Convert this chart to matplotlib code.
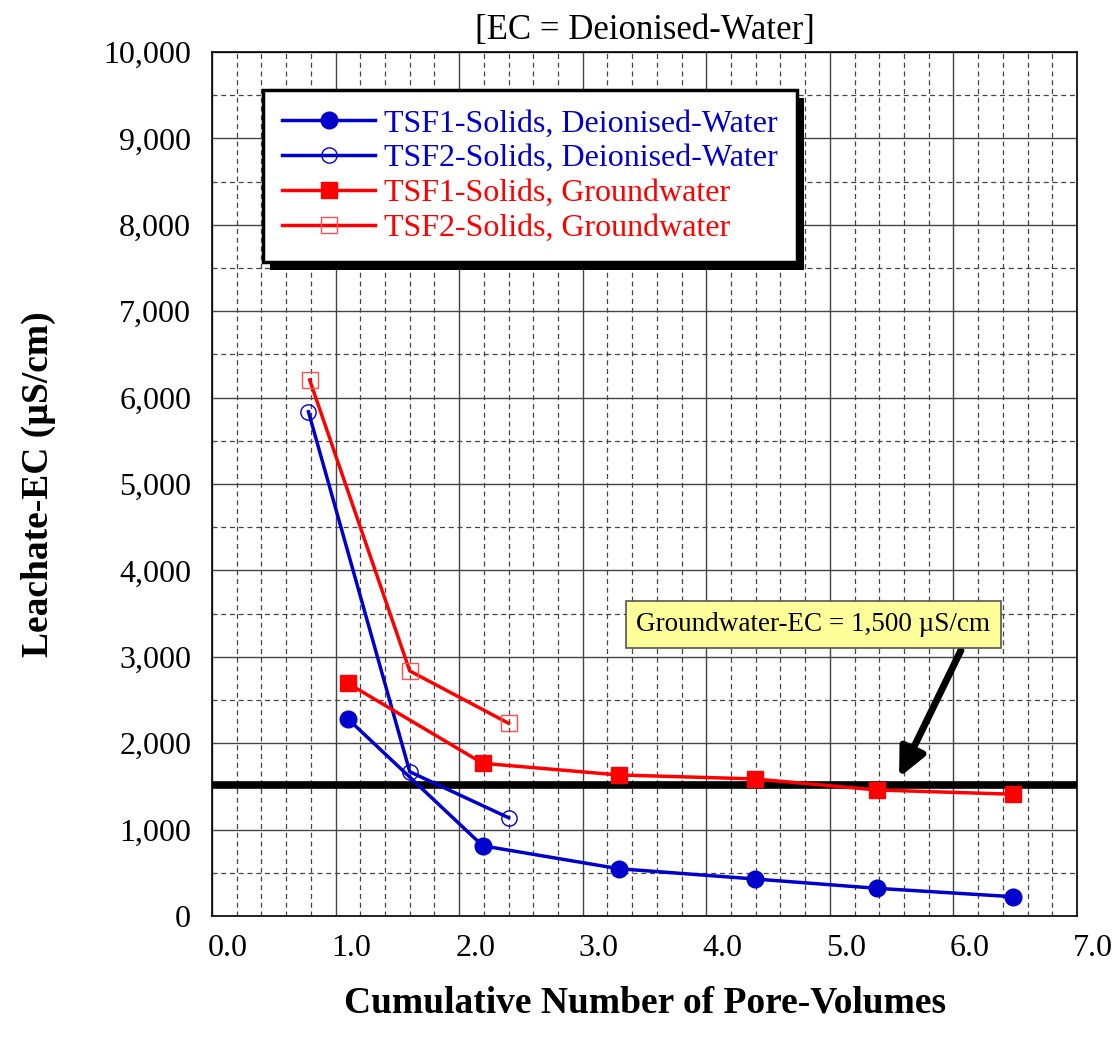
import numpy as np
import matplotlib
matplotlib.use("Agg")
import matplotlib.pyplot as plt
import matplotlib.transforms as mtransforms
from matplotlib.patches import Rectangle
from matplotlib.ticker import MultipleLocator, FuncFormatter

plt.rcParams['font.family'] = ['Liberation Serif', 'DejaVu Serif']

# data
tsf1_dw_x = [1.10, 2.19, 3.29, 4.39, 5.38, 6.48]
tsf1_dw_y = [2280, 812, 547, 428, 320, 223]
tsf2_dw_x = [0.78, 1.60, 2.40]
tsf2_dw_y = [5836, 1669, 1137]
tsf1_gw_x = [1.10, 2.19, 3.29, 4.39, 5.38, 6.48]
tsf1_gw_y = [2692, 1767, 1632, 1586, 1458, 1409]
tsf2_gw_x = [0.79, 1.60, 2.40]
tsf2_gw_y = [6204, 2836, 2230]
groundwater_ec = 1520

blue = "#0000CC"
red = "#FF0000"

fig = plt.figure(figsize=(11.19, 10.48), dpi=100)
ax = fig.add_axes([0.1895, 0.126, 0.773, 0.8244])

ax.set_xlim(0, 7)
ax.set_ylim(0, 10000)
ax.xaxis.set_major_locator(MultipleLocator(1.0))
ax.xaxis.set_minor_locator(MultipleLocator(0.2))
ax.yaxis.set_major_locator(MultipleLocator(1000))
ax.yaxis.set_minor_locator(MultipleLocator(500))
ax.xaxis.set_major_formatter(FuncFormatter(lambda v, p: f"{v:.1f}"))
ax.yaxis.set_major_formatter(FuncFormatter(lambda v, p: f"{v:,.0f}"))
ax.grid(which='major', color='#444444', lw=1.0, ls='-')
ax.grid(which='minor', color='#444444', lw=0.9, ls=(0, (4, 3)))
ax.set_axisbelow(True)
ax.tick_params(which='both', length=0)
ax.tick_params(axis='x', labelsize=23, pad=13)
ax.tick_params(axis='y', labelsize=23, pad=15)
for sp in ax.spines.values():
    sp.set_linewidth(1.2)

# x tick labels sit a little right of their gridlines in the original
shift = mtransforms.ScaledTranslation(16 / 100, 0, fig.dpi_scale_trans)
for lab in ax.get_xticklabels():
    lab.set_transform(lab.get_transform() + shift)

ax.axhline(groundwater_ec, color='black', lw=5.5, zorder=2)

ax.plot(tsf1_dw_x, tsf1_dw_y, color=blue, lw=2.5, marker='o', ms=12,
        mfc=blue, mec=blue, label='TSF1-Solids, Deionised-Water', zorder=3)
ax.plot(tsf2_dw_x, tsf2_dw_y, color=blue, lw=2.5, marker='o', ms=11,
        mfc='none', mec=blue, mew=1.0, label='TSF2-Solids, Deionised-Water', zorder=3)
ax.plot(tsf1_gw_x, tsf1_gw_y, color=red, lw=2.5, marker='s', ms=12,
        mfc=red, mec=red, label='TSF1-Solids, Groundwater', zorder=3)
ax.plot(tsf2_gw_x, tsf2_gw_y, color=red, lw=2.5, marker='s', ms=11,
        mfc='none', mec='#FF5050', mew=1.0, label='TSF2-Solids, Groundwater', zorder=3)

ax.set_title('[EC = Deionised-Water]', fontsize=25, pad=9)
ax.set_xlabel('Cumulative Number of Pore-Volumes', fontsize=27,
              fontweight='bold', labelpad=16)
ax.set_ylabel('Leachate-EC (µS/cm)', fontsize=27, fontweight='bold', labelpad=34)

leg = ax.legend(loc='upper left', bbox_to_anchor=(0.059, 0.956), fontsize=23,
                frameon=True, fancybox=False, edgecolor='black',
                handlelength=2.9, handletextpad=0.3, labelspacing=0.17,
                borderpad=0.6, borderaxespad=0, framealpha=1)
leg.get_frame().set_linewidth(2.5)
for txt, c in zip(leg.get_texts(), [blue, blue, red, red]):
    txt.set_color(c)
leg.set_zorder(6)

# thick black drop shadow behind legend
fig.canvas.draw()
bb = leg.get_window_extent()
shadow = Rectangle((bb.x0 + 7, bb.y0 - 8), bb.width, bb.height,
                   transform=None, facecolor='black', edgecolor='none',
                   zorder=5)
ax.add_artist(shadow)

ax.annotate('', xy=(5.55, 1574), xytext=(6.07, 3102),
            arrowprops=dict(arrowstyle='-|>,head_length=1.7,head_width=0.8',
                            color='black', lw=5), zorder=4)
ax.text(4.866, 3374, 'Groundwater-EC = 1,500 µS/cm', fontsize=19.5,
        ha='center', va='center', zorder=5,
        bbox=dict(boxstyle='square,pad=0.4', facecolor='#FFFF99',
                  edgecolor='#555555', lw=1.2))

fig.savefig('out.png', dpi=100)
